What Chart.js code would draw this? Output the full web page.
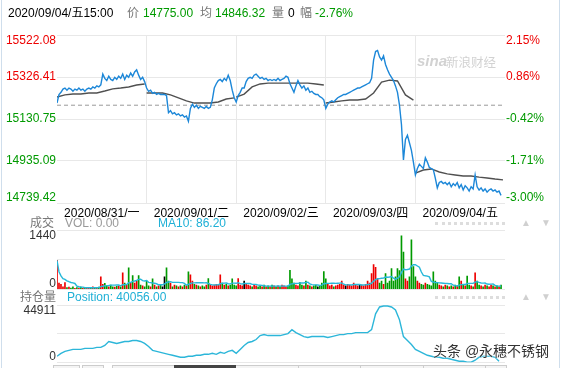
<!DOCTYPE html>
<html><head><meta charset="utf-8">
<script src="https://cdn.jsdelivr.net/npm/chart.js@4.4.0/dist/chart.umd.min.js"></script>
<style>
html,body{margin:0;padding:0;background:#fff;}
body{width:561px;height:368px;position:relative;overflow:hidden;font-family:"Liberation Sans",Arial,"Noto Sans CJK SC",sans-serif;font-size:12px;}
.t{position:absolute;white-space:nowrap;line-height:14px;z-index:5;}
canvas{position:absolute;left:0;}
.g{color:#009a00}.r{color:#ee0000}.k{color:#000}.m{color:#777}.c{color:#1fb0d6}
</style></head><body>
<div style="position:absolute;left:1px;top:0;width:1px;height:368px;background:#cfdeec"></div>
<div style="position:absolute;left:559px;top:0;width:1px;height:368px;background:#cfdeec"></div>

<div class="t k" style="left:8px;top:6px">2020/09/04/五15:00</div>
<div class="t m" style="left:127px;top:6px">价</div>
<div class="t g" style="left:143px;top:6px">14775.00</div>
<div class="t m" style="left:200px;top:6px">均</div>
<div class="t g" style="left:215px;top:6px">14846.32</div>
<div class="t m" style="left:272px;top:6px">量</div>
<div class="t k" style="left:288px;top:6px">0</div>
<div class="t m" style="left:300px;top:6px">幅</div>
<div class="t g" style="left:315px;top:6px">-2.76%</div>

<div class="t" style="left:417px;top:54px;color:#d2d2d2;font-style:italic;font-weight:bold;font-size:15px">sina</div>
<div class="t" style="left:446px;top:56px;color:#d2d2d2;font-size:12.5px">新浪财经</div>

<canvas id="cMain" width="561" height="220" style="top:0"></canvas>

<div class="t m" style="left:30px;top:216px">成交</div>
<div class="t" style="left:65px;top:216px;color:#999">VOL: 0.00</div>
<div class="t c" style="left:158px;top:216px">MA10: 86.20</div>
<div style="position:absolute;left:435px;top:222px;width:70px;height:0;border-top:3px dotted #ddd"></div>
<div class="t" style="left:521px;top:216px;color:#d0d0d0;font-size:10px">▲</div>
<div class="t" style="left:541px;top:216px;color:#d0d0d0;font-size:10px">▼</div>

<canvas id="cVol" width="561" height="86" style="top:215px"></canvas>

<div class="t m" style="left:20px;top:290px">持仓量</div>
<div class="t c" style="left:67px;top:290px">Position: 40056.00</div>
<div style="position:absolute;left:435px;top:296px;width:70px;height:0;border-top:3px dotted #ddd"></div>
<div class="t" style="left:521px;top:290px;color:#d0d0d0;font-size:10px">▲</div>
<div class="t" style="left:541px;top:290px;color:#d0d0d0;font-size:10px">▼</div>

<canvas id="cPos" width="561" height="82" style="top:292px"></canvas>

<div style="position:absolute;left:53px;top:365px;width:25px;height:6px;background:#f4f4f4;border:1px solid #ccc;z-index:6"></div>
<div style="position:absolute;left:82px;top:365px;width:20px;height:6px;background:#f4f4f4;border:1px solid #ccc;z-index:6"></div>
<div style="position:absolute;left:112px;top:365px;width:393px;height:6px;background:#f4f4f4;border:1px solid #ccc;z-index:6"></div>
<div style="position:absolute;left:298px;top:365px;width:1px;height:6px;background:#ccc;z-index:7"></div>
<div style="position:absolute;left:360px;top:365px;width:1px;height:6px;background:#ccc;z-index:7"></div>
<div style="position:absolute;left:423px;top:365px;width:1px;height:6px;background:#ccc;z-index:7"></div>
<div style="position:absolute;left:485px;top:365px;width:1px;height:6px;background:#ccc;z-index:7"></div>
<div style="position:absolute;left:174px;top:365px;width:62px;height:8px;background:#444;z-index:7"></div>

<div class="t" style="left:433px;top:343px;font-size:14px;line-height:16px;color:#333;text-shadow:0 0 2px #fff,0 0 2px #fff">头条 @永穗不锈钢</div>

<script>
const dayLabels = ['2020/08/31/一','2020/09/01/二','2020/09/02/三','2020/09/03/四','2020/09/04/五'];
const perDay = 45;
const prevClose = 15195;
const priceTicks = [14739.42, 14935.09, 15130.75, 15326.41, 15522.08];
const pctLabels = ['-3.00%', '-1.71%', '-0.42%', '0.86%', '2.15%'];

const priceD1 = [15205,15245,15255,15270,15275,15265,15275,15270,15260,15270,15265,15275,15265,15270,15260,15270,15275,15270,15280,15275,15285,15280,15290,15340,15320,15310,15330,15315,15310,15325,15315,15330,15320,15340,15315,15335,15325,15345,15330,15350,15360,15335,15315,15325,15305];
const priceD2 = [15275,15260,15265,15250,15255,15245,15250,15245,15245,15245,15240,15160,15170,15155,15160,15150,15155,15145,15150,15140,15145,15120,15180,15200,15185,15195,15180,15190,15185,15180,15190,15180,15185,15220,15275,15295,15310,15315,15305,15320,15310,15335,15310,15265,15230];
const priceD3 = [15210,15240,15255,15275,15275,15305,15320,15325,15320,15335,15340,15330,15320,15325,15315,15320,15310,15315,15310,15315,15310,15320,15310,15315,15320,15330,15325,15295,15275,15255,15285,15310,15290,15275,15285,15265,15275,15255,15260,15250,15245,15245,15235,15230,15220];
const priceD4 = [15180,15200,15210,15215,15210,15220,15230,15235,15240,15245,15245,15250,15255,15260,15265,15270,15275,15275,15280,15285,15290,15295,15300,15320,15405,15445,15450,15420,15405,15425,15385,15360,15340,15325,15310,15285,15255,15195,15105,14940,15035,15055,15020,14985,14930];
const priceD5 = [14870,14900,14920,14910,14900,14950,14930,14905,14900,14895,14855,14810,14835,14840,14830,14835,14825,14835,14815,14830,14820,14835,14810,14825,14800,14820,14810,14795,14815,14805,14870,14815,14800,14810,14795,14805,14790,14800,14805,14795,14800,14790,14795,14775];

const avgOffsets = [0,4,8,12,16,20,24,28,32,36,40,44];
const avgD1 = [15233,15243,15247,15247,15252,15252,15261,15271,15275,15280,15289,15294];
const avgD2 = [15252,15252,15252,15243,15229,15215,15205,15205,15205,15210,15224,15229];
const avgD3 = [15233,15247,15280,15294,15298,15298,15298,15298,15298,15298,15294,15289];
const avgD4 = [15205,15210,15215,15219,15219,15224,15252,15303,15312,15308,15243,15219];
const avgD5 = [14879,14893,14898,14884,14875,14870,14865,14865,14860,14856,14851,14847];

const volD1 = [700,150,120,60,160,40,50,30,60,20,40,30,50,20,30,40,30,20,60,40,30,50,300,120,140,80,60,100,60,50,70,80,60,400,150,100,520,140,330,150,200,330,100,80,60];
const volD2 = [200,80,60,250,100,60,80,120,60,300,520,200,150,60,100,80,60,80,60,100,80,420,350,200,120,100,80,60,80,60,100,260,120,80,100,120,100,350,150,100,120,80,100,250,100];
const volD3 = [80,260,100,80,200,120,100,80,60,100,80,60,80,60,100,60,80,60,100,80,60,80,60,100,80,60,80,460,250,150,100,80,160,100,80,200,100,80,60,80,100,60,80,150,430];
const volD4 = [250,120,80,100,60,80,100,120,200,100,80,120,100,80,150,100,80,120,100,80,120,200,150,380,600,530,250,150,200,120,380,150,200,500,200,300,500,450,1300,900,250,200,300,1200,550];
const volD5 = [300,200,150,120,100,150,120,100,80,420,200,150,100,80,60,100,80,60,80,60,100,80,300,200,100,80,320,100,80,60,400,200,100,80,60,100,80,60,100,80,60,80,60,100];
const volTicks = [0, 720, 1440];
const volTickLabels = ['0', '', '1440'];

const positionStep = 2;
const position = [40481,40736,40907,40992,41077,41077,41077,41162,41162,41162,41247,41247,41418,41759,41673,41588,41673,41759,41759,41844,41844,41759,41588,41333,40992,40907,40821,40736,40651,40566,40481,40396,40396,40481,40481,40566,40566,40651,40651,40736,40651,40821,40736,40907,40992,40736,41077,41418,41673,41759,41929,42270,42355,42270,42270,42270,42270,42355,42440,42781,42525,42355,42185,42099,42185,42185,42185,42185,42099,42185,42270,42355,42355,42440,42440,42525,42525,42525,42525,42781,44144,44741,44826,44826,44741,44485,43633,42185,41844,41503,41077,40907,40736,40566,40481,40396,40396,40310,40310,40225,40140,40055,40055,39970,39970,40140,40396,40481,40481,40481,40396,40056];
const posTicks = [39970, 42440.5, 44911];
const posTickLabels = ['0', '', '44911'];

// ---- build ----
const price = [].concat(priceD1, priceD2, priceD3, priceD4, priceD5);
const xMax = perDay * dayLabels.length;
const avgPts = [];
[avgD1, avgD2, avgD3, avgD4, avgD5].forEach((arr, d) => {
  arr.forEach((v, k) => avgPts.push({x: d * perDay + avgOffsets[k], y: v}));
  avgPts.push({x: d * perDay + perDay - 0.5, y: null});
});
const volume = [].concat(volD1, volD2, volD3, volD4, volD5);
const volMA10 = volume.map((v, i) => { const s = volume.slice(Math.max(0, i - 9), i + 1); return s.reduce((a, b) => a + b, 0) / s.length; });
const RED = '#ee0000', GREEN = '#009a00';
const volColors = volume.map((v, i) => i === 0 ? RED : (price[i] > price[i-1] ? RED : (price[i] < price[i-1] ? GREEN : '#000')));

Chart.defaults.font.family = '"Liberation Sans", Arial, "Noto Sans CJK SC", sans-serif';
Chart.defaults.font.size = 12;
const GRID = '#e8e8e8';

function edgeLabel(text, index, count) {
  if (index === 0) return [text, ''];
  if (index === count - 1) return ['', text];
  return text;
}
const common = {responsive: false, animation: false, devicePixelRatio: 1, events: [],
  plugins: {legend: {display: false}, tooltip: {enabled: false}}};

new Chart(document.getElementById('cMain'), {
  type: 'line',
  data: {datasets: [
    {data: price.map((v, i) => ({x: i, y: v})), xAxisID: 'x', yAxisID: 'y', borderColor: '#1c87d8', borderWidth: 1.4, pointRadius: 0, tension: 0, order: 1},
    {data: avgPts, xAxisID: 'x', yAxisID: 'y', borderColor: '#505050', borderWidth: 1.4, pointRadius: 0, tension: 0, spanGaps: false, order: 2},
    {data: [{x: 0, y: prevClose}, {x: xMax, y: prevClose}], xAxisID: 'x', yAxisID: 'y', borderColor: '#999', borderWidth: 1, borderDash: [4, 3], pointRadius: 0, order: 3}
  ]},
  options: Object.assign({}, common, {
    layout: {padding: {top: 35, left: 0, right: 0, bottom: 0}},
    scales: {
      x: {type: 'linear', min: 0, max: xMax, display: false},
      xd: {type: 'category', labels: dayLabels, position: 'bottom', offset: true,
        grid: {offset: true, drawTicks: false, color: ctx => (ctx.index === undefined || ctx.index === 0) ? 'rgba(0,0,0,0)' : GRID},
        border: {display: false},
        ticks: {color: '#000', padding: 3, maxRotation: 0, autoSkip: false},
        afterFit: s => { s.height = 17; }},
      y: {type: 'linear', position: 'left', min: priceTicks[0], max: priceTicks[priceTicks.length - 1],
        afterBuildTicks: s => { s.ticks = priceTicks.map(v => ({value: v})); },
        ticks: {padding: 1, font: {size: 12, lineHeight: 0.9},
          color: ctx => ctx.tick && ctx.tick.value > prevClose ? RED : GREEN,
          callback: (v, i, t) => edgeLabel(Number(v).toFixed(2), i, t.length)},
        grid: {color: GRID, drawTicks: false}, border: {display: false},
        afterFit: s => { s.width = 57; }},
      yr: {type: 'linear', position: 'right', min: priceTicks[0], max: priceTicks[priceTicks.length - 1],
        afterBuildTicks: s => { s.ticks = priceTicks.map(v => ({value: v})); },
        ticks: {padding: 1, font: {size: 12, lineHeight: 0.9},
          color: ctx => ctx.tick && ctx.tick.value > prevClose ? RED : GREEN,
          callback: (v, i, t) => edgeLabel(pctLabels[i], i, t.length)},
        grid: {display: false, drawTicks: false}, border: {display: false},
        afterFit: s => { s.width = 56; }}
    }
  })
});

new Chart(document.getElementById('cVol'), {
  type: 'bar',
  data: {datasets: [
    {type: 'bar', data: volume.map((v, i) => ({x: i, y: v})), backgroundColor: volColors, barThickness: 1, grouped: false, order: 2},
    {type: 'line', data: volMA10.map((v, i) => ({x: i, y: v})), borderColor: '#26b8d9', borderWidth: 1.4, pointRadius: 0, tension: 0, order: 1}
  ]},
  options: Object.assign({}, common, {
    layout: {padding: {top: 15, left: 0, right: 56, bottom: 11}},
    scales: {
      x: {type: 'linear', min: 0, max: xMax, display: false, offset: false},
      y: {type: 'linear', position: 'left', min: volTicks[0], max: volTicks[volTicks.length - 1],
        afterBuildTicks: s => { s.ticks = volTicks.map(v => ({value: v})); },
        ticks: {padding: 1, color: '#333', font: {size: 12, lineHeight: 0.9},
          callback: (v, i, t) => edgeLabel(volTickLabels[i], i, t.length)},
        grid: {color: GRID, drawTicks: false}, border: {display: false},
        afterFit: s => { s.width = 57; }}
    }
  })
});

new Chart(document.getElementById('cPos'), {
  type: 'line',
  data: {datasets: [
    {data: position.map((v, i) => ({x: i * positionStep, y: v})), borderColor: '#2cb6d9', borderWidth: 1.4, pointRadius: 0, tension: 0}
  ]},
  options: Object.assign({}, common, {
    layout: {padding: {top: 13, left: 0, right: 56, bottom: 11}},
    scales: {
      x: {type: 'linear', min: 0, max: xMax, display: false},
      y: {type: 'linear', position: 'left', min: posTicks[0], max: posTicks[posTicks.length - 1],
        afterBuildTicks: s => { s.ticks = posTicks.map(v => ({value: v})); },
        ticks: {padding: 1, color: '#333', font: {size: 12, lineHeight: 0.9},
          callback: (v, i, t) => edgeLabel(posTickLabels[i], i, t.length)},
        grid: {color: GRID, drawTicks: false}, border: {display: false},
        afterFit: s => { s.width = 57; }}
    }
  })
});
</script>
</body></html>
